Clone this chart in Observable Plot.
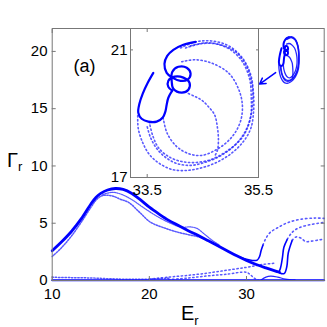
<!DOCTYPE html>
<html><head><meta charset="utf-8">
<script src="https://cdn.jsdelivr.net/npm/d3@7"></script>
<script src="https://cdn.jsdelivr.net/npm/@observablehq/plot@0.6"></script>
<style>
body{margin:0;background:#fff;}
#wrap{position:relative;width:327px;height:327px;overflow:hidden;font-family:"Liberation Sans",Arial,sans-serif;background:#fff;}
#wrap svg{position:absolute;overflow:visible;background:transparent;}
</style></head><body><div id="wrap"></div>
<script>
// ---- tick labels ----
const xTicks = [10, 20, 30];
const yTicks = [0, 5, 10, 15, 20];
const insetXTicks = [33.5, 35.5];
const insetYTicks = [17, 21];
const panelLabel = ["(a)"];

// ---- main trajectories [E_r, Gamma_r] ----
const mainThick = [[10,2.6],[11,3.4],[12,4.3],[13,5.4],[14,6.7],[14.5,7.25],[15,7.6],[15.7,7.9],[16.5,8.03],[17.3,7.95],[18.2,7.6],[19,7.1],[20,6.4],[21,5.8],[22,5.25],[23,4.8],[24,4.35],[25,3.95],[26,3.5],[27,3.05],[28,2.6],[29,2.15],[30,1.75],[31,1.4],[32,1.1],[33,0.82],[33.4,0.72]];
const mainLower = [[10,2.1],[11,2.9],[12,3.9],[13,5.1],[14,6.4],[14.5,7.0],[15,7.35],[15.5,7.45],[16.2,7.38],[17,7.1],[17.9,6.8],[19,5.95],[20.1,5.1],[21.5,4.6],[23,4.2],[24.3,3.95],[25.3,3.75],[26.3,3.35],[27.3,2.95]];
const mainMiddle = [[15.2,7.5],[16.2,7.7],[17.2,7.5],[18.3,7.0],[19.5,6.3],[21,5.5],[22.3,4.95],[23.3,4.65],[24.2,4.68],[24.9,4.55],[25.6,4.1],[26.4,3.55],[27.2,3.1]];
const branch1Solid = [[29.3,2.05],[30,1.85],[30.6,1.75],[31.1,1.78],[31.35,2.1],[31.5,2.6],[31.7,3.1]];
const branch1Dots = [[31.7,3.1],[31.95,3.6],[32.45,4.2],[33.3,4.65],[34.3,5.07],[35.7,5.36],[37.1,5.45],[38,5.42]];
const branch2Solid = [[32.9,0.85],[33.3,0.74],[33.5,1.1],[33.7,2.0],[33.85,2.9],[34.2,3.6]];
const branch2Dots = [[34.2,3.6],[34.7,4.2],[35.4,4.6],[36.7,4.9],[38,5.07]];
const branch3Solid = [[33.2,0.76],[33.6,0.6],[33.9,0.62],[34.15,1.2],[34.3,2.4],[34.7,3.5]];
const branch3Dots = [[34.7,3.5],[35.1,3.8],[35.6,3.7],[36.1,3.4],[36.8,3.45],[37.5,3.55],[38,3.6]];
const zeroLine = [[10,0.03],[38,0.03]];
const lowDots1 = [[10,0.28],[12,0.25],[14,0.22],[16,0.15],[18,0.1],[20,0.12],[22,0.2]];
const lowRise1 = [[20,0.12],[22,0.3],[24,0.45],[26,0.65],[28,0.9],[30,1.15],[31.5,1.38],[32.8,1.5]];
const lowRise2 = [[22,0.08],[24,0.22],[26,0.4],[28,0.55],[30,0.72],[30.4,0.5],[30.8,0.2],[31.2,0.05]];
const lowHump = [[31.5,0.05],[32,0.3],[32.5,0.38],[33.2,0.3],[34,0.12],[35,0.05]];

// ---- attractor (inset) trajectories ----
const attrArc = [[33.61,20.28],[33.51,19.97],[33.42,19.63],[33.36,19.31],[33.34,19.03],[33.40,18.84],[33.52,18.75],[33.67,18.75],[33.78,18.88],[33.83,19.09],[33.85,19.28],[33.88,19.50],[33.95,19.72]];
const attrLoops = [[33.95,19.72],[33.88,19.84],[33.88,20.03],[33.99,20.16],[34.15,20.13],[34.26,19.97],[34.24,19.75],[34.12,19.66],[33.97,19.78],[33.94,20.03],[33.95,20.31],[34.06,20.47],[34.21,20.44],[34.28,20.25],[34.22,20.06],[34.10,20.03],[33.95,20.13],[33.85,20.28],[33.81,20.56],[33.86,20.81],[33.97,21.0],[34.15,21.16],[34.37,21.25]];
const attrRing1 = [[34.10,21.06],[34.37,21.25],[34.65,21.28],[34.96,21.13],[35.21,20.75],[35.36,20.22],[35.41,19.63],[35.41,19.03],[35.36,18.53],[35.23,18.13],[35.03,17.78],[34.78,17.50],[34.49,17.31],[34.21,17.22],[33.95,17.25],[33.72,17.44],[33.54,17.72],[33.42,18.09],[33.34,18.53],[33.33,18.94]];
const attrRing2 = [[34.28,21.13],[34.55,21.22],[34.82,21.16],[35.09,20.94],[35.29,20.47],[35.39,19.84],[35.39,19.25],[35.34,18.75],[35.23,18.31],[35.03,17.94],[34.80,17.66],[34.53,17.47],[34.28,17.38],[34.03,17.44],[33.83,17.63],[33.67,17.91],[33.56,18.25],[33.49,18.66]];
const attrRing3 = [[34.19,21.06],[34.46,21.19],[34.73,21.19],[35.0,21.0],[35.21,20.63],[35.34,20.09],[35.37,19.5],[35.36,18.94],[35.27,18.47],[35.10,18.06],[34.89,17.78],[34.64,17.56],[34.37,17.47],[34.12,17.5],[33.88,17.66],[33.70,17.94],[33.60,18.31],[33.54,18.72]];
const attrRing4 = [[34.12,20.63],[34.37,20.69],[34.65,20.59],[34.96,20.28],[35.14,19.78],[35.21,19.28],[35.18,18.78],[35.07,18.38],[34.92,18.09],[34.71,17.84],[34.47,17.69],[34.24,17.75],[34.03,17.97],[33.86,18.38],[33.79,18.84]];
const attrInner = [[34.24,19.63],[34.37,19.53],[34.49,19.41],[34.60,19.22],[34.71,18.97],[34.76,18.59],[34.78,18.16],[34.76,17.84],[34.71,17.66]];
const arrowPts = [{x1:33.0, y1:18.15, x2:31.35, y2:17.15}];

// ---- styles ----
const BLUE = "#0000ff";
const FONT = "Liberation Sans, Arial, sans-serif";
const XY = {x: d => d[0], y: d => d[1], curve: "catmull-rom"};
const thick = (w) => ({...XY, stroke: BLUE, strokeWidth: w});
const thin = (w) => ({...XY, stroke: "#1010ff", strokeWidth: w, strokeOpacity: 0.9});
const dots = (w, dash) => ({...XY, stroke: "#2020ff", strokeWidth: w, strokeDasharray: dash, strokeOpacity: 0.75});

const attrThick = [attrArc, attrLoops];
const attrDotted = [attrRing1, attrRing2, attrRing3, attrRing4, attrInner];

const main = Plot.plot({
  width: 327, height: 327,
  marginLeft: 51.7, marginRight: 3.3, marginTop: 28, marginBottom: 47,
  style: {fontFamily: FONT, fontSize: "15px", background: "transparent", color: "black"},
  x: {domain: [10, 38]},
  y: {domain: [0, 22]},
  marks: [
    Plot.line(zeroLine, thick(2)),
    Plot.line(lowDots1, dots(1.5, "1.4,1.8")),
    Plot.line(lowRise1, dots(1.5, "1.4,2.6")),
    Plot.line(lowRise2, dots(1.5, "1.4,2.6")),
    Plot.line(lowHump, thin(1.2)),
    Plot.line(mainLower, dots(1.5, "1.4,1.4")),
    Plot.line(mainMiddle, dots(1.2, "1.4,1.0")),
    Plot.line(mainThick, thick(2.8)),
    Plot.line(branch1Solid, thick(1.6)),
    Plot.line(branch1Dots, dots(1.6, "1.4,3")),
    Plot.line(branch2Solid, thick(1.6)),
    Plot.line(branch2Dots, dots(1.6, "1.4,3")),
    Plot.line(branch3Solid, thick(1.6)),
    Plot.line(branch3Dots, dots(1.6, "1.4,3")),
    ...attrThick.map(s => Plot.line(s, thick(2))),
    ...attrDotted.map(s => Plot.line(s, thin(1.3))),
    Plot.arrow(arrowPts, {x1: "x1", y1: "y1", x2: "x2", y2: "y2", stroke: BLUE, strokeWidth: 1.5, headLength: 7}),
    Plot.frame({stroke: "#777"}),
    Plot.axisX({ticks: xTicks, tickSize: -4, tickPadding: 12, label: null, stroke: "#777", fontSize: 15, color: "black"}),
    Plot.axisX({anchor: "top", ticks: xTicks, tickSize: -4, tickFormat: () => "", label: null, stroke: "#777"}),
    Plot.axisY({ticks: yTicks, tickSize: -4, tickPadding: 8.7, label: null, stroke: "#777", fontSize: 15, color: "black"}),
    Plot.axisY({anchor: "right", ticks: yTicks, tickSize: -4, tickFormat: () => "", label: null, stroke: "#777"}),
    Plot.text(panelLabel, {text: d => d, frameAnchor: "top-left", dx: 21.3, dy: 43, lineAnchor: "bottom", textAnchor: "start", fontSize: 18, fill: "black"})
  ]
});
main.style.left = "0px"; main.style.top = "0px";

// axis labels with subscripts
const ms = d3.select(main);
const gl = ms.append("text").attr("x", 7).attr("y", 167).attr("text-anchor", "start").attr("font-family", FONT).attr("font-size", 20).attr("fill", "black");
gl.append("tspan").text("Γ");
gl.append("tspan").attr("font-size", 13).attr("dy", 4).text("r");
const el = ms.append("text").attr("x", 181).attr("y", 320).attr("text-anchor", "start").attr("font-family", FONT).attr("font-size", 20).attr("fill", "black");
el.append("tspan").text("E");
el.append("tspan").attr("font-size", 13).attr("dy", 5).text("r");

const insetML = 22, insetMT = 2, insetMR = 14, insetMB = 20;
const inset = Plot.plot({
  width: insetML + 128 + insetMR, height: insetMT + 149 + insetMB,
  marginLeft: insetML, marginRight: insetMR, marginTop: insetMT, marginBottom: insetMB,
  style: {fontFamily: FONT, fontSize: "15px", background: "transparent", color: "black"},
  x: {domain: [33.2, 35.5]},
  y: {domain: [17, 21.67]},
  marks: [
    Plot.frame({fill: "white", stroke: null}),
    ...attrDotted.map(s => Plot.line(s, dots(1.6, "1.3,2.6"))),
    ...attrThick.map(s => Plot.line(s, thick(2.2))),
    Plot.frame({stroke: "#777"}),
    Plot.axisX({ticks: insetXTicks, tickSize: -3, tickPadding: 10, label: null, stroke: "#777", fontSize: 15, color: "black", tickFormat: d => d.toFixed(1)}),
    Plot.axisX({anchor: "top", ticks: insetXTicks, tickSize: -3, tickFormat: () => "", label: null, stroke: "#777"}),
    Plot.axisY({ticks: insetYTicks, tickSize: -3, tickPadding: 6, label: null, stroke: "#777", fontSize: 15, color: "black", tickFormat: d => String(d)}),
    Plot.axisY({anchor: "right", ticks: insetYTicks, tickSize: -3, tickFormat: () => "", label: null, stroke: "#777"})
  ]
});
inset.style.left = (130 - insetML) + "px"; inset.style.top = (28 - insetMT) + "px";

const wrap = document.getElementById("wrap");
wrap.appendChild(main);
wrap.appendChild(inset);
</script></body></html>
